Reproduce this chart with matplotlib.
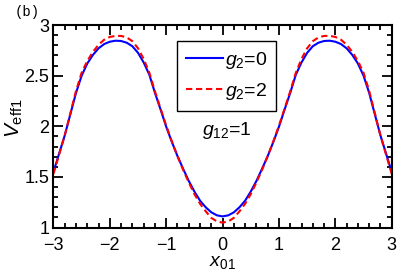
import numpy as np
import matplotlib
matplotlib.use('Agg')
import matplotlib.pyplot as plt
from matplotlib.ticker import MultipleLocator

plt.rcParams['font.family'] = ['Liberation Sans', 'DejaVu Sans']
plt.rcParams['mathtext.fontset'] = 'custom'
plt.rcParams['mathtext.rm'] = 'Liberation Sans'
plt.rcParams['mathtext.it'] = 'Liberation Sans:italic'

# x grid (step 0.1) and curves
x01 = np.round(np.arange(-3.0, 3.0001, 0.1), 1)

v_g0 = [1.550, 1.730, 1.910, 2.120, 2.330, 2.500, 2.620, 2.705, 2.770, 2.812,
        2.835, 2.845, 2.842, 2.825, 2.790, 2.725, 2.630, 2.510, 2.330, 2.165,
        1.995, 1.845, 1.705, 1.580, 1.460, 1.355, 1.265, 1.200, 1.150, 1.120,
        1.110,
        1.120, 1.150, 1.200, 1.265, 1.355, 1.460, 1.580, 1.705, 1.845, 1.995,
        2.165, 2.330, 2.510, 2.630, 2.725, 2.790, 2.825, 2.842, 2.845, 2.835,
        2.812, 2.770, 2.705, 2.620, 2.500, 2.330, 2.120, 1.910, 1.730, 1.550]

v_g2 = [1.530, 1.720, 1.910, 2.130, 2.350, 2.530, 2.645, 2.735, 2.805, 2.855,
        2.882, 2.893, 2.892, 2.877, 2.840, 2.770, 2.665, 2.530, 2.345, 2.175,
        2.005, 1.850, 1.705, 1.570, 1.445, 1.330, 1.235, 1.160, 1.095, 1.060,
        1.048,
        1.060, 1.095, 1.160, 1.235, 1.330, 1.445, 1.570, 1.705, 1.850, 2.005,
        2.175, 2.345, 2.530, 2.665, 2.770, 2.840, 2.877, 2.892, 2.893, 2.882,
        2.855, 2.805, 2.735, 2.645, 2.530, 2.350, 2.130, 1.910, 1.720, 1.530]

fig = plt.figure(figsize=(4.07, 2.76), dpi=100)
ax = fig.add_axes([0.1314, 0.1757, 0.831, 0.7337])

ax.plot(x01, v_g0, color='blue', lw=1.5, label=r'$g_2$=0')
ax.plot(x01, v_g2, color='red', lw=1.5, linestyle=(0, (3, 1.8)), label=r'$g_2$=2')

ax.set_xlim(-3, 3)
ax.set_ylim(1, 3)
ax.set_xticks([-3, -2, -1, 0, 1, 2, 3])
ax.set_yticks([1, 1.5, 2, 2.5, 3])
ax.set_yticklabels(['1', '1.5', '2', '2.5', '3'])
ax.xaxis.set_minor_locator(MultipleLocator(0.2))
ax.yaxis.set_minor_locator(MultipleLocator(0.1))
ax.tick_params(which='both', direction='in', top=True, right=True, labelsize=13)
ax.tick_params(which='major', length=7, width=1.3)
ax.tick_params(which='minor', length=3.6, width=1.3)
ax.tick_params(axis='x', pad=7)
ax.tick_params(axis='y', pad=3)
for s in ax.spines.values():
    s.set_linewidth(1.5)

ax.set_xlabel(r'$x_{\mathrm{01}}$', fontsize=14, labelpad=0)
ax.set_ylabel(r'$V_{\mathrm{eff1}}$', fontsize=15)
ax.yaxis.set_label_coords(-0.085, 0.54)

leg = ax.legend(loc='upper left', bbox_to_anchor=(0.366, 0.922), borderaxespad=0,
                fancybox=False, edgecolor='black', framealpha=1, fontsize=14,
                handlelength=1.9, handletextpad=0.1, labelspacing=0.55,
                borderpad=0.45)
leg.get_frame().set_linewidth(1.0)

ax.text(0.513, 0.477, r'$g_{12}$=1', transform=ax.transAxes, fontsize=14,
        ha='center', va='center')
fig.text(0.037, 0.955, '(b)', family='Liberation Mono', fontsize=10,
         ha='left', va='center')

fig.savefig('out.png', dpi=100)
